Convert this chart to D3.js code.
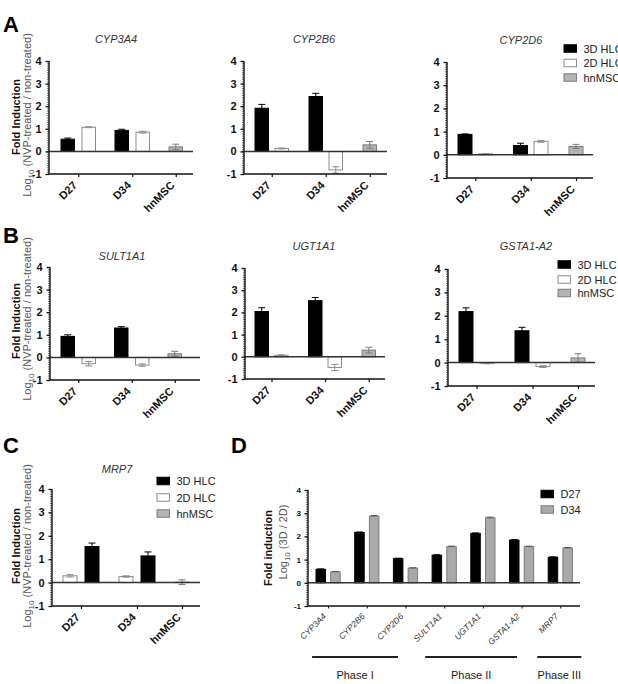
<!DOCTYPE html>
<html><head><meta charset="utf-8">
<script src="https://cdn.jsdelivr.net/npm/d3@7"></script>
<style>
body{margin:0;background:#fff;}
svg{display:block;font-family:"Liberation Sans",Arial,sans-serif;}
</style>
</head><body>
<script>
// ---------------- DATA ----------------
const groups = ["D27", "D34", "hnMSC"];
const seriesNames = ["3D HLC", "2D HLC", "hnMSC"];
const yTickValues = [-1, 0, 1, 2, 3, 4];

// order: [3D D27, 2D D27, 3D D34, 2D D34, hnMSC]
const CYP3A4_mean = [0.54, 1.07, 0.93, 0.85, 0.20];
const CYP3A4_err  = [0.05, 0.02, 0.05, 0.04, 0.12];
const CYP2B6_mean = [1.91, 0.13, 2.43, -0.82, 0.29];
const CYP2B6_err  = [0.17, 0.02, 0.14, 0.14, 0.15];
const CYP2D6_mean = [0.88, 0.04, 0.40, 0.58, 0.36];
const CYP2D6_err  = [0.02, 0.01, 0.10, 0.04, 0.09];
const SULT1A1_mean = [0.93, -0.28, 1.30, -0.34, 0.16];
const SULT1A1_err  = [0.07, 0.10, 0.06, 0.05, 0.11];
const UGT1A1_mean = [2.04, 0.07, 2.53, -0.48, 0.30];
const UGT1A1_err  = [0.17, 0.02, 0.14, 0.14, 0.13];
const GSTA1A2_mean = [2.18, -0.03, 1.36, -0.17, 0.20];
const GSTA1A2_err  = [0.16, 0.02, 0.15, 0.04, 0.18];
// MRP7 order: [2D D27, 3D D27, 2D D34, 3D D34, hnMSC]
const MRP7_mean = [0.29, 1.54, 0.26, 1.14, 0.02];
const MRP7_err  = [0.05, 0.15, 0.03, 0.17, 0.10];

// Panel D
const dGenes = ["CYP3A4", "CYP2B6", "CYP2D6", "SULT1A1", "UGT1A1", "GSTA1-A2", "MRP7"];
const dSeries = ["D27", "D34"];
const dD27 = [0.58, 2.17, 1.04, 1.19, 2.13, 1.84, 1.10];
const dD34 = [0.47, 2.87, 0.63, 1.56, 2.80, 1.56, 1.50];
const dErr27 = [0.02, 0.02, 0.02, 0.02, 0.02, 0.02, 0.02];
const dErr34 = [0.02, 0.03, 0.02, 0.02, 0.03, 0.02, 0.02];
const phaseNames = ["Phase I", "Phase II", "Phase III"];
const phaseFirst = ["CYP3A4", "SULT1A1", "MRP7"];
const phaseLast  = ["CYP2D6", "GSTA1-A2", "MRP7"];

// ---------------- STYLE ----------------
const fills   = {"3D HLC": "#000", "2D HLC": "#fff", "hnMSC": "#b4b4b4", "D27": "#000", "D34": "#a9a9a9"};
const strokes = {"3D HLC": "#000", "2D HLC": "#8c8c8c", "hnMSC": "#7c7c7c", "D27": "#000", "D34": "#7c7c7c"};

const svg = d3.select("body").append("svg").attr("width", 618).attr("height", 684);

const orderHLC = [["3D HLC", "2D HLC"], ["3D HLC", "2D HLC"], ["hnMSC"]];
const orderC   = [["2D HLC", "3D HLC"], ["2D HLC", "3D HLC"], ["hnMSC"]];

function yAxis(g, y, left, labelSize, tickLabelGap) {
  const minor = d3.range(-10, 41).map(d => d / 10);
  g.append("g").attr("transform", `translate(${left},0)`)
    .call(d3.axisLeft(y).tickValues(minor).tickSize(2).tickSizeOuter(0).tickFormat(""))
    .call(a => a.select(".domain").remove())
    .call(a => a.selectAll("line").attr("stroke", "#333").attr("stroke-width", 0.7));
  g.append("g").attr("transform", `translate(${left},0)`)
    .call(d3.axisLeft(y).tickValues(yTickValues).tickSize(3.5).tickSizeOuter(0).tickPadding(tickLabelGap).tickFormat(d => String(d)))
    .call(a => a.select(".domain").remove())
    .call(a => a.selectAll("line").attr("stroke", "#111").attr("stroke-width", 1.3))
    .call(a => a.selectAll("text").attr("font-size", labelSize).attr("font-weight", "bold")
      .attr("fill", "#111").attr("font-family", "Liberation Sans, Arial, sans-serif"));
  const [b, t] = y.range();
  g.append("line").attr("x1", left).attr("x2", left).attr("y1", t).attr("y2", b)
    .attr("stroke", "#111").attr("stroke-width", 1.4);
}

function drawSub(cfg) {
  const g = svg.append("g");
  const y = d3.scaleLinear().domain([-1, 4]).range([cfg.bottom, cfg.top]);
  const xg = d3.scaleBand().domain(groups).range([cfg.x0, cfg.x0 + cfg.groupStep * 3]);
  const p = 1 - cfg.barW / cfg.slotStep;
  const xs = d3.scaleBand().domain([0, 1]).range([0, cfg.slotStep * 2]).paddingInner(p).paddingOuter(p / 2);
  const bars = [];
  let k = 0;
  groups.forEach((grp, gi) => cfg.order[gi].forEach((s, si) => {
    bars.push({grp, s, slot: si, v: cfg.mean[k], e: cfg.err[k]}); k++;
  }));
  bars.forEach(b => { b.x = xg(b.grp) + xs(b.slot); b.cx = b.x + xs.bandwidth() / 2; });
  const tickPos = d3.scaleOrdinal().domain(groups)
    .range(groups.map(grp => d3.mean(bars.filter(b => b.grp === grp), b => b.cx)));

  // bars
  g.selectAll("rect.bar").data(bars).join("rect")
    .attr("x", b => b.x).attr("width", xs.bandwidth())
    .attr("y", b => y(Math.max(0, b.v))).attr("height", b => Math.abs(y(b.v) - y(0)))
    .attr("fill", b => fills[b.s]).attr("stroke", b => strokes[b.s]).attr("stroke-width", 1);
  // error bars
  const cw = 3.5;
  const eb = g.selectAll("g.err").data(bars).join("g").attr("stroke", b => strokes[b.s]).attr("stroke-width", 1);
  eb.append("line").attr("x1", b => b.cx).attr("x2", b => b.cx).attr("y1", b => y(b.v - b.e)).attr("y2", b => y(b.v + b.e));
  eb.append("line").attr("x1", b => b.cx - cw).attr("x2", b => b.cx + cw).attr("y1", b => y(b.v + b.e)).attr("y2", b => y(b.v + b.e));
  eb.append("line").attr("x1", b => b.cx - cw).attr("x2", b => b.cx + cw).attr("y1", b => y(b.v - b.e)).attr("y2", b => y(b.v - b.e));

  // zero line
  g.append("line").attr("x1", cfg.left).attr("x2", cfg.right).attr("y1", y(0)).attr("y2", y(0))
    .attr("stroke", "#333").attr("stroke-width", 1.5);
  // bottom axis
  g.append("line").attr("x1", cfg.left).attr("x2", cfg.right).attr("y1", y(-1)).attr("y2", y(-1))
    .attr("stroke", "#111").attr("stroke-width", 1.3);
  g.append("g").attr("transform", `translate(0,${cfg.bottom})`)
    .call(d3.axisBottom(tickPos).tickSize(3).tickSizeOuter(0))
    .call(a => a.select(".domain").remove())
    .call(a => a.selectAll("line").attr("stroke", "#111").attr("stroke-width", 1.2))
    .call(a => a.selectAll("text").attr("y", 0).attr("x", 0).attr("dy", 0)
      .attr("transform", "translate(-1,12) rotate(-45)").style("text-anchor", "end")
      .attr("font-size", 11).attr("font-weight", "bold").attr("fill", "#111")
      .attr("font-family", "Liberation Sans, Arial, sans-serif"));
  yAxis(g, y, cfg.left, 11, 4);

  g.append("text").attr("x", cfg.titleX).attr("y", cfg.titleY).attr("text-anchor", "middle")
    .attr("font-size", 11).attr("font-style", "italic").attr("fill", "#333").text(cfg.title);
}

function legend(items, x, rows) {
  const g = svg.append("g");
  items.forEach((s, i) => {
    g.append("rect").attr("x", x).attr("y", rows[i] - 3.75).attr("width", 12.5).attr("height", 7.5)
      .attr("fill", fills[s]).attr("stroke", strokes[s]).attr("stroke-width", 1);
    g.append("text").attr("x", x + 19.5).attr("y", rows[i] + 4).attr("font-size", 11).attr("fill", "#222").text(s);
  });
}

function yLabel(line1, line2sub, line2rest, x1, y1, x2, y2) {
  svg.append("text").attr("transform", `translate(${x1},${y1}) rotate(-90)`).attr("text-anchor", "middle")
    .attr("font-size", 11).attr("font-weight", "bold").attr("fill", "#111").text(line1);
  const t = svg.append("text").attr("transform", `translate(${x2},${y2}) rotate(-90)`).attr("text-anchor", "middle")
    .attr("font-size", 11).attr("fill", "#555");
  t.append("tspan").text("Log");
  t.append("tspan").attr("font-size", 8).attr("dy", 3).text(line2sub);
  t.append("tspan").attr("dy", -3).text(line2rest);
}

function panelLetter(l, x, y) {
  svg.append("text").attr("x", x).attr("y", y).attr("font-size", 22).attr("font-weight", "bold").attr("fill", "#000").text(l);
}

// ---------------- PANELS A, B, C ----------------
drawSub({title: "CYP3A4", titleX: 116, titleY: 43, left: 49, right: 193, top: 61, bottom: 174,
  x0: 57.25, groupStep: 54, slotStep: 21, barW: 13.5, order: orderHLC, mean: CYP3A4_mean, err: CYP3A4_err});
drawSub({title: "CYP2B6", titleX: 314, titleY: 43, left: 244, right: 387, top: 61, bottom: 174,
  x0: 251.75, groupStep: 54, slotStep: 20, barW: 13.5, order: orderHLC, mean: CYP2B6_mean, err: CYP2B6_err});
drawSub({title: "CYP2D6", titleX: 521, titleY: 44, left: 447, right: 593, top: 62, bottom: 178,
  x0: 454.75, groupStep: 55.5, slotStep: 20.5, barW: 14, order: orderHLC, mean: CYP2D6_mean, err: CYP2D6_err});
drawSub({title: "SULT1A1", titleX: 122, titleY: 260, left: 50, right: 200, top: 267, bottom: 380,
  x0: 57.25, groupStep: 53.5, slotStep: 21, barW: 13.5, order: orderHLC, mean: SULT1A1_mean, err: SULT1A1_err});
drawSub({title: "UGT1A1", titleX: 314, titleY: 250, left: 245, right: 385, top: 268, bottom: 379,
  x0: 252, groupStep: 53.5, slotStep: 19.5, barW: 13.5, order: orderHLC, mean: UGT1A1_mean, err: UGT1A1_err});
drawSub({title: "GSTA1-A2", titleX: 526, titleY: 250, left: 448, right: 595, top: 269, bottom: 386,
  x0: 455.5, groupStep: 56, slotStep: 21, barW: 14, order: orderHLC, mean: GSTA1A2_mean, err: GSTA1A2_err});
drawSub({title: "MRP7", titleX: 117, titleY: 473, left: 52, right: 200, top: 489, bottom: 606,
  x0: 59, groupStep: 56, slotStep: 22, barW: 14, order: orderC, mean: MRP7_mean, err: MRP7_err});

legend(seriesNames, 564, [48.5, 63, 77.5]);
legend(seriesNames, 558, [264.5, 279.5, 293]);
legend(seriesNames, 157, [481, 497.5, 513.5]);

yLabel("Fold Induction", "10", " (NVP-treated / non-treated)", 20, 117, 31, 115);
yLabel("Fold Induction", "10", " (NVP-treated / non-treated)", 20, 321, 31, 319);
yLabel("Fold Induction", "10", " (NVP-treated / non-treated)", 20, 546, 31, 546);

panelLetter("A", 3, 32);
panelLetter("B", 3, 243);
panelLetter("C", 3, 453);
panelLetter("D", 231, 453);

// ---------------- PANEL D ----------------
(function () {
  const left = 308, right = 580, top = 490, bottom = 606;
  const g = svg.append("g");
  const y = d3.scaleLinear().domain([-1, 4]).range([bottom, top]);
  const step = 38.7, slotStep = 14.7, barW = 9.5, x0 = 313.4;
  const xg = d3.scaleBand().domain(dGenes).range([x0, x0 + step * dGenes.length]);
  const p = 1 - barW / slotStep;
  const xs = d3.scaleBand().domain(dSeries).range([0, slotStep * 2]).paddingInner(p).paddingOuter(p / 2);
  const bars = [];
  dGenes.forEach((gene, i) => {
    bars.push({gene, s: "D27", v: dD27[i], e: dErr27[i]});
    bars.push({gene, s: "D34", v: dD34[i], e: dErr34[i]});
  });
  bars.forEach(b => { b.x = xg(b.gene) + xs(b.s); b.cx = b.x + xs.bandwidth() / 2; });
  const center = gene => xg(gene) + xs("D27") + (slotStep + barW) / 2;

  g.selectAll("rect").data(bars).join("rect")
    .attr("x", b => b.x).attr("width", xs.bandwidth())
    .attr("y", b => y(b.v)).attr("height", b => y(0) - y(b.v))
    .attr("fill", b => fills[b.s]).attr("stroke", b => strokes[b.s]).attr("stroke-width", 1);
  const eb = g.selectAll("g.err").data(bars).join("g").attr("stroke", b => b.s === "D27" ? "#000" : "#555").attr("stroke-width", 1);
  eb.append("line").attr("x1", b => b.cx).attr("x2", b => b.cx).attr("y1", b => y(b.v - b.e)).attr("y2", b => y(b.v + b.e));
  eb.append("line").attr("x1", b => b.cx - 3.5).attr("x2", b => b.cx + 3.5).attr("y1", b => y(b.v + b.e)).attr("y2", b => y(b.v + b.e));

  g.append("line").attr("x1", left).attr("x2", right).attr("y1", y(0)).attr("y2", y(0)).attr("stroke", "#333").attr("stroke-width", 1.5);
  g.append("line").attr("x1", left).attr("x2", right).attr("y1", y(-1)).attr("y2", y(-1)).attr("stroke", "#111").attr("stroke-width", 1.3);
  const tickPos = d3.scaleOrdinal().domain(dGenes).range(dGenes.map(center));
  g.append("g").attr("transform", `translate(0,${bottom})`)
    .call(d3.axisBottom(tickPos).tickSize(2.5).tickSizeOuter(0))
    .call(a => a.select(".domain").remove())
    .call(a => a.selectAll("line").attr("stroke", "#111"))
    .call(a => a.selectAll("text").attr("y", 0).attr("x", 0).attr("dy", 0)
      .attr("transform", "translate(-2,11) rotate(-45)").style("text-anchor", "end")
      .attr("font-size", 8.5).attr("font-style", "italic").attr("fill", "#333")
      .attr("font-family", "Liberation Sans, Arial, sans-serif"));
  yAxis(g, y, left, 8, 3.5);

  // phases
  const phaseDx = [[-16, -7.5], [-19, -4.5], [-23, 21]];
  phaseNames.forEach((ph, i) => {
    const xa = center(phaseFirst[i]) + phaseDx[i][0];
    const xb = center(phaseLast[i]) + phaseDx[i][1];
    g.append("line").attr("x1", xa).attr("x2", xb).attr("y1", 657).attr("y2", 657).attr("stroke", "#222").attr("stroke-width", 2);
    g.append("text").attr("x", (xa + xb) / 2).attr("y", 679).attr("text-anchor", "middle")
      .attr("font-size", 11).attr("fill", "#222").text(ph);
  });

  legend(dSeries, 541, [494, 509.5]);
  yLabel("Fold induction", "10", " (3D / 2D)", 272, 548, 287, 542);
})();
</script>
</body></html>
